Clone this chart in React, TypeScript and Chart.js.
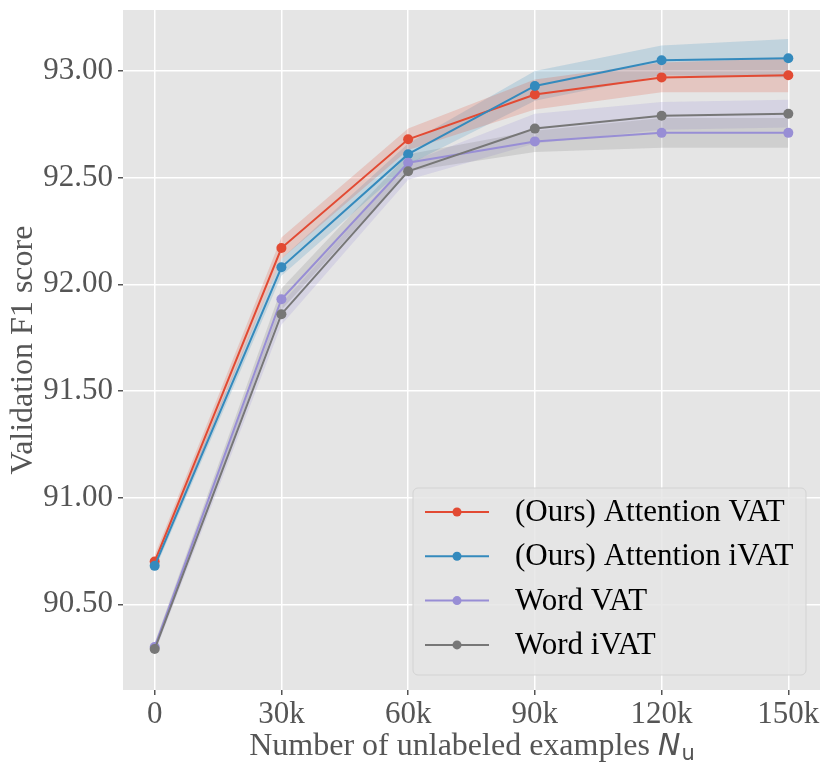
import React, { useRef, useEffect } from 'react';
import { Chart, registerables } from 'chart.js';

Chart.register(...registerables);
Chart.defaults.font.family = '"Liberation Serif", "Times New Roman", serif';

// number of unlabeled examples (x positions) and their tick labels
const examples = [0, 30000, 60000, 90000, 120000, 150000];
const xTickLabels = ['0', '30k', '60k', '90k', '120k', '150k'];
const yTicks = [90.5, 91.0, 91.5, 92.0, 92.5, 93.0];

// validation F1, mean and half-width of the shaded band
const attentionVat = [90.7, 92.17, 92.68, 92.89, 92.97, 92.98];
const attentionVatSpread = [0.03, 0.05, 0.05, 0.07, 0.07, 0.08];
const attentionIvat = [90.68, 92.08, 92.61, 92.93, 93.05, 93.06];
const attentionIvatSpread = [0.02, 0.04, 0.05, 0.07, 0.07, 0.09];
const wordVat = [90.3, 91.93, 92.57, 92.67, 92.71, 92.71];
const wordVatSpread = [0.02, 0.05, 0.04, 0.05, 0.07, 0.07];
const wordIvat = [90.29, 91.86, 92.53, 92.73, 92.79, 92.8];
const wordIvatSpread = [0.02, 0.05, 0.04, 0.07, 0.065, 0.065];

const series = [
  { label: '(Ours) Attention VAT', values: attentionVat, spread: attentionVatSpread, color: '#E24A33', band: 'rgba(226,74,51,0.2)' },
  { label: '(Ours) Attention iVAT', values: attentionIvat, spread: attentionIvatSpread, color: '#348ABD', band: 'rgba(52,138,189,0.2)' },
  // the two word-level bands come out with each other's colour in the original
  { label: 'Word VAT', values: wordVat, spread: wordVatSpread, color: '#988ED5', band: 'rgba(119,119,119,0.2)' },
  { label: 'Word iVAT', values: wordIvat, spread: wordIvatSpread, color: '#777777', band: 'rgba(152,142,213,0.2)' },
];

const plotBackground = {
  id: 'plotBackground',
  beforeDraw(chart) {
    const { ctx, chartArea } = chart;
    ctx.save();
    ctx.fillStyle = '#E5E5E5';
    ctx.fillRect(chartArea.left, chartArea.top, chartArea.right - chartArea.left, chartArea.bottom - chartArea.top);
    ctx.restore();
  },
};

const xTitle = {
  id: 'xTitle',
  afterDraw(chart) {
    const { ctx, chartArea } = chart;
    const main = 'Number of unlabeled examples ';
    const serif = '32px "Liberation Serif", serif';
    const ital = 'italic 30px "DejaVu Sans", sans-serif';
    const sub = '21px "DejaVu Sans", sans-serif';
    ctx.save();
    ctx.fillStyle = '#555555';
    ctx.textBaseline = 'alphabetic';
    ctx.font = serif;
    const w1 = ctx.measureText(main).width;
    ctx.font = ital;
    const w2 = ctx.measureText('N').width;
    ctx.font = sub;
    const w3 = ctx.measureText('u').width;
    let x = (chartArea.left + chartArea.right) / 2 - (w1 + w2 + w3) / 2;
    const y = chartArea.bottom + 65;
    ctx.font = serif;
    ctx.fillText(main, x, y);
    x += w1;
    ctx.font = ital;
    ctx.fillText('N', x, y);
    x += w2 + 1;
    ctx.font = sub;
    ctx.fillText('u', x, y + 5);
    ctx.restore();
  },
};

const legendBox = {
  id: 'legendBox',
  afterDraw(chart) {
    const { ctx, chartArea } = chart;
    const w = 393;
    const h = 187;
    const x0 = chartArea.right - 14 - w;
    const y0 = chartArea.bottom - 15 - h;
    ctx.save();
    ctx.fillStyle = 'rgba(229,229,229,0.85)';
    ctx.strokeStyle = '#D3D3D3';
    ctx.lineWidth = 1;
    ctx.beginPath();
    ctx.roundRect(x0, y0, w, h, 5);
    ctx.fill();
    ctx.stroke();
    series.forEach((s, i) => {
      const y = y0 + 24 + i * 44.3;
      ctx.strokeStyle = s.color;
      ctx.lineWidth = 2;
      ctx.beginPath();
      ctx.moveTo(x0 + 12, y);
      ctx.lineTo(x0 + 76, y);
      ctx.stroke();
      ctx.fillStyle = s.color;
      ctx.beginPath();
      ctx.arc(x0 + 44, y, 4.5, 0, Math.PI * 2);
      ctx.fill();
      ctx.fillStyle = '#000000';
      ctx.font = '31px "Liberation Serif", serif';
      ctx.textBaseline = 'middle';
      ctx.fillText(s.label, x0 + 102, y + 1);
    });
    ctx.restore();
  },
};

const App = () => {
  const canvasRef = useRef(null);
  const chartRef = useRef(null);

  useEffect(() => {
    document.body.style.margin = '0';
    const datasets = [];
    // shaded bands first, drawn underneath the lines
    series.forEach((s) => {
      datasets.push({
        data: examples.map((x, i) => ({ x, y: s.values[i] - s.spread[i] })),
        borderWidth: 0,
        pointRadius: 0,
        fill: false,
        order: 20,
      });
      datasets.push({
        data: examples.map((x, i) => ({ x, y: s.values[i] + s.spread[i] })),
        borderWidth: 0,
        pointRadius: 0,
        backgroundColor: s.band,
        fill: '-1',
        order: 20,
      });
    });
    series.forEach((s, k) => {
      datasets.push({
        label: s.label,
        data: examples.map((x, i) => ({ x, y: s.values[i] })),
        borderColor: s.color,
        backgroundColor: s.color,
        borderWidth: 2,
        pointRadius: 5,
        pointBorderWidth: 0,
        fill: false,
        order: 10 - k,
      });
    });

    chartRef.current = new Chart(canvasRef.current, {
      type: 'line',
      data: { datasets },
      plugins: [plotBackground, xTitle, legendBox],
      options: {
        animation: false,
        responsive: true,
        maintainAspectRatio: false,
        layout: { padding: { left: 0, right: 11, top: 10, bottom: 0 } },
        plugins: {
          legend: { display: false },
          tooltip: { enabled: false },
        },
        scales: {
          x: {
            type: 'linear',
            min: -7500,
            max: 157500,
            afterBuildTicks: (scale) => {
              scale.ticks = examples.map((v) => ({ value: v }));
            },
            afterFit: (scale) => {
              scale.height = 84;
              scale.paddingLeft = 0;
              scale.paddingRight = 0;
            },
            border: { display: false },
            grid: { color: '#FFFFFF', lineWidth: 1.5, tickColor: '#555555', tickLength: 5 },
            ticks: {
              color: '#555555',
              font: { size: 31 },
              padding: 1,
              maxRotation: 0,
              autoSkip: false,
              callback: (v) => xTickLabels[examples.indexOf(v)],
            },
          },
          y: {
            min: 90.098,
            max: 93.286,
            afterBuildTicks: (scale) => {
              scale.ticks = yTicks.map((v) => ({ value: v }));
            },
            afterFit: (scale) => {
              scale.width = 123;
              scale.paddingTop = 0;
              scale.paddingBottom = 0;
            },
            border: { display: false },
            grid: { color: '#FFFFFF', lineWidth: 1.5, tickColor: '#555555', tickLength: 5 },
            ticks: {
              color: '#555555',
              font: { size: 31 },
              padding: 5,
              callback: (v) => Number(v).toFixed(2),
            },
            title: {
              display: true,
              text: 'Validation F1 score',
              color: '#555555',
              font: { size: 32 },
              padding: { top: 4, bottom: 0 },
            },
          },
        },
      },
    });

    return () => {
      if (chartRef.current) {
        chartRef.current.destroy();
      }
    };
  }, []);

  return (
    <div style={{ width: 831, height: 774, position: 'relative' }}>
      <canvas ref={canvasRef}></canvas>
    </div>
  );
};

export default App;
